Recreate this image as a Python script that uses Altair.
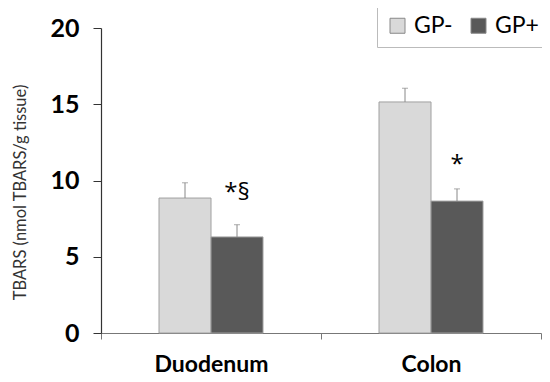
import altair as alt
import pandas as pd

regions = ["Duodenum", "Duodenum", "Colon", "Colon"]
groups = ["GP-", "GP+", "GP-", "GP+"]
values = [8.85, 6.3, 15.15, 8.65]
errors = [1.0, 0.8, 0.9, 0.8]
marks = ["", "*§", "", "*"]
mark_y = [None, 8.7, None, 10.55]

df = pd.DataFrame({"Region": regions, "Group": groups, "Value": values, "Err": errors})
df["Top"] = df["Value"] + df["Err"]
ann = pd.DataFrame({"Region": regions, "Group": groups, "Label": marks, "Y": mark_y}).dropna()

FONT = "Lato"
order = ["Duodenum", "Colon"]
gorder = ["GP-", "GP+"]

x = alt.X("Region:N", sort=order, title=None,
          scale=alt.Scale(paddingInner=0, paddingOuter=0),
          axis=alt.Axis(labelFont=FONT, labelFontSize=23, labelFontWeight="bold",
                        labelColor="black", labelAngle=0, labelPadding=14,
                        tickBand="extent", tickSize=6, tickColor="#777",
                        domainColor="#777", domainWidth=1.2))
xo = alt.XOffset("Group:N", sort=gorder,
                 scale=alt.Scale(range=[58, 162], paddingInner=0, paddingOuter=0))
yscale = alt.Scale(domain=[0, 20])

bars = alt.Chart(df).mark_bar(stroke="#a0a0a0", strokeWidth=1).encode(
    x=x, xOffset=xo,
    y=alt.Y("Value:Q", scale=yscale, title="TBARS (nmol TBARS/g tissue)",
            axis=alt.Axis(values=[0, 5, 10, 15, 20], grid=False, labelFont=FONT,
                          labelFontSize=25, labelFontWeight="bold", labelColor="black",
                          labelPadding=14, tickSize=8, tickColor="#333", domainColor="#333",
                          domainWidth=1.2, titleFont=FONT, titleFontSize=16.5,
                          titleFontWeight="normal", titleColor="#333", titlePadding=21,
                          titleY=164)),
    color=alt.Color("Group:N", sort=gorder,
                    scale=alt.Scale(domain=gorder, range=["#d9d9d9", "#595959"]),
                    legend=alt.Legend(title=None, orient="none", legendX=276, legendY=-23,
                                      direction="horizontal", labelFont=FONT, labelFontSize=23,
                                      labelColor="black", symbolType="square", symbolSize=225,
                                      symbolStrokeColor="#888", symbolStrokeWidth=1,
                                      columnPadding=14, padding=9, strokeColor="#bbb",
                                      fillColor="white", labelOffset=5)),
)

err = alt.Chart(df).mark_rule(color="#888", strokeWidth=1).encode(
    x=x, xOffset=xo, y=alt.Y("Value:Q", scale=yscale), y2="Top:Q")
cap = alt.Chart(df).mark_tick(color="#888", thickness=1, size=6, orient="horizontal").encode(
    x=x, xOffset=xo, y=alt.Y("Top:Q", scale=yscale))

txt = alt.Chart(ann).mark_text(font="Open Sans", fontSize=24, color="black", baseline="alphabetic").encode(
    x=x, xOffset=xo, y=alt.Y("Y:Q", scale=yscale), text="Label:N")

chart = alt.layer(bars, err, cap, txt).properties(
    width=440, height=305,
    autosize=alt.AutoSizeParams(type="none"),
    padding={"left": 93, "top": 20, "right": 1, "bottom": 46},
).configure_view(stroke=None)

chart.save("out.html", embed_options={"renderer": "svg", "actions": False})
